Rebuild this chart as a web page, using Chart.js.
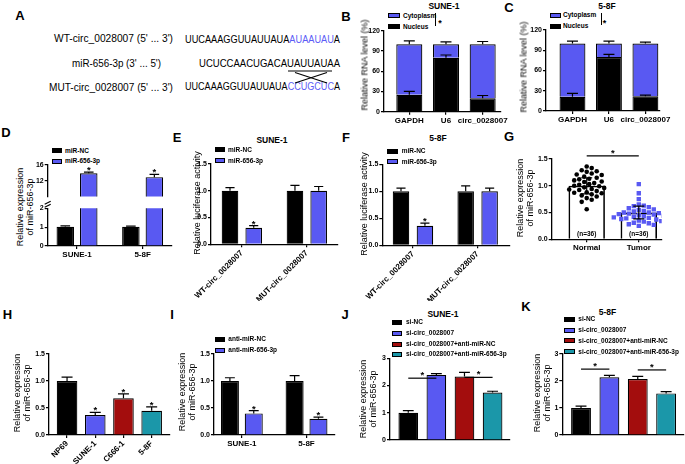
<!DOCTYPE html>
<html>
<head>
<meta charset="utf-8">
<script src="https://cdn.jsdelivr.net/npm/chart.js@4.4.1/dist/chart.umd.min.js"></script>
<style>
body { margin: 0; background: #fff; }
#fig { position: relative; width: 685px; height: 464px; overflow: hidden; background: #fff; font-family: 'Liberation Sans', Arial, sans-serif; }
#fig canvas { position: absolute; }
.t { position: absolute; white-space: nowrap; line-height: 1; font-weight: bold; color: #000; }
.box { position: absolute; box-sizing: border-box; border: 1px solid #000; }
</style>
</head>
<body>
<div id="fig">
  <svg id="seq" width="350" height="110" style="position:absolute;left:0;top:0" font-family="Liberation Sans, Arial, sans-serif"></svg>
</div>
<script>
// ---- data ----
// A: binding site
const seqLabels = ["WT-circ_0028007 (5' ... 3')", "miR-656-3p (3' ... 5')", "MUT-circ_0028007 (5' ... 3')"];
const wtSeq = ['UUCAAAGGUUAUUAUA', 'AUAAUAU', 'A'];
const mirSeq = 'UCUCCAACUGACAUAUUAUAA';
const mutSeq = ['UUCAAAGGUUAUUAUA', 'CCUGCUC', 'A'];

// B, C: nuclear / cytoplasmic fractions
const rnaCats = ['GAPDH', 'U6', 'circ_0028007'];
const nucleusB = [25, 80, 20];
const cytoB = [75, 20, 80];
const nucleusErrB = [5, 4, 4];
const cytoErrB = [5, 3.5, 4];
const nucleusC = [21, 80, 22];
const cytoC = [79, 20, 78];
const nucleusErrC = [5, 4, 1.5];
const cytoErrC = [3.5, 3.5, 2];

// D, I: cell lines
const cellCats = ['SUNE-1', '5-8F'];
const ncD = [1.02, 1.02];
const ncErrD = [0.05, 0.03];
const mimicD = [13.9, 12.9];
const mimicErrD = [0.3, 0.7];

// E, F: luciferase
const lucCats = ['WT-circ_0028007', 'MUT-circ_0028007'];
const ncE = [1.0, 1.0];
const ncErrE = [0.06, 0.1];
const mimicE = [0.31, 1.0];
const mimicErrE = [0.04, 0.08];
const ncF = [1.0, 1.0];
const ncErrF = [0.06, 0.1];
const mimicF = [0.36, 1.0];
const mimicErrF = [0.05, 0.06];

// G: tissues
const tissueCats = ['Normal', 'Tumor'];
const normalG = [1.36, 1.33, 1.29, 1.27, 1.26, 1.23, 1.21, 1.2, 1.17, 1.15, 1.13, 1.12, 1.1, 1.08, 1.07, 1.05, 1.03, 1.02,
                 1.0, 0.99, 0.97, 0.96, 0.94, 0.93, 0.92, 0.9, 0.88, 0.87, 0.86, 0.84, 0.82, 0.8, 0.77, 0.74, 0.7, 0.56];
const tumorG = [1.03, 0.86, 0.75, 0.65, 0.63, 0.62, 0.6, 0.58, 0.56, 0.55, 0.53, 0.52, 0.5, 0.5, 0.49, 0.48, 0.47, 0.46,
                0.45, 0.44, 0.43, 0.42, 0.41, 0.4, 0.39, 0.38, 0.37, 0.36, 0.35, 0.34, 0.33, 0.31, 0.3, 0.28, 0.27, 0.25];
const meanG = [1.0, 0.5];
const sdG = [0.15, 0.12];
const nG = ['(n=36)', '(n=36)'];

// H: cell lines
const lineCats = ['NP69', 'SUNE-1', 'C666-1', '5-8F'];
const exprH = [1.0, 0.37, 0.68, 0.45];
const errH = [0.07, 0.05, 0.08, 0.07];

// I: inhibitor
const antiNcI = [1.0, 1.0];
const antiNcErrI = [0.06, 0.1];
const anti656I = [0.4, 0.3];
const anti656ErrI = [0.05, 0.03];

// J, K: rescue
const rescueCats = ['si-NC', 'si-circ_0028007', 'si-circ_0028007+anti-miR-NC', 'si-circ_0028007+anti-miR-656-3p'];
const exprJ = [1.0, 2.39, 2.33, 1.74];
const errJ = [0.08, 0.05, 0.15, 0.05];
const exprK = [1.0, 2.14, 2.07, 1.54];
const errK = [0.07, 0.07, 0.1, 0.07];

// ---- styles ----
const FONT = "'Liberation Sans', Arial, sans-serif";
const BLUE = '#5959f2';
const RED = '#a30d0d';
const TEAL = '#1b97a9';
const fig = document.getElementById('fig');
Chart.defaults.font.family = FONT;
const exprTitle = ['Relative expression', 'of miR-656-3p'];

// Panel A sequences
const seqBlue = '#5b5bf6';
document.getElementById('seq').innerHTML = `
  <g font-size="10">
    <text x="54" y="42" textLength="119" lengthAdjust="spacingAndGlyphs">${seqLabels[0]}</text>
    <text x="72" y="66.5" textLength="89" lengthAdjust="spacingAndGlyphs">${seqLabels[1]}</text>
    <text x="49" y="91" textLength="124" lengthAdjust="spacingAndGlyphs">${seqLabels[2]}</text>
  </g>
  <g font-size="11.5">
    <text x="185" y="43" textLength="155" lengthAdjust="spacingAndGlyphs">${wtSeq[0]}<tspan fill="${seqBlue}">${wtSeq[1]}</tspan>${wtSeq[2]}</text>
    <text x="199" y="66.5" textLength="141" lengthAdjust="spacingAndGlyphs">${mirSeq}</text>
    <text x="185" y="90" textLength="155" lengthAdjust="spacingAndGlyphs">${mutSeq[0]}<tspan fill="${seqBlue}">${mutSeq[1]}</tspan>${mutSeq[2]}</text>
  </g>
  <g stroke="#000" stroke-width="1.2">
    <line x1="288" y1="71" x2="332" y2="71"/>
    <line x1="295" y1="72.5" x2="327" y2="83"/>
    <line x1="327" y1="72.5" x2="295" y2="83"/>
  </g>`;

// HTML text helpers
function label(x, y, s, size, center = true, weight = 'bold') {
  const d = document.createElement('div');
  d.className = 't';
  d.textContent = s;
  d.style.left = x + 'px';
  d.style.top = y + 'px';
  d.style.fontSize = size + 'px';
  d.style.fontWeight = weight;
  d.style.transform = center ? 'translate(-50%,-50%)' : 'translateY(-50%)';
  fig.appendChild(d);
}

// rotated axis title, one or more lines, first line at x
function yTitle(x, y, lines) {
  [].concat(lines).forEach((s, k) => {
    const d = document.createElement('div');
    d.className = 't';
    d.textContent = s;
    d.style.left = (x + k * 10) + 'px';
    d.style.top = y + 'px';
    d.style.fontSize = '9px';
    d.style.fontWeight = 'normal';
    d.style.transform = 'translate(-50%,-50%) rotate(-90deg)';
    fig.appendChild(d);
  });
}

function legend(x, textX, rows, items, colors, w = 10) {
  items.forEach((s, i) => {
    const b = document.createElement('div');
    b.className = 'box';
    b.style.cssText = `left:${x}px;top:${rows[i] - 2.5}px;width:${w}px;height:5px;background:${colors[i]}`;
    fig.appendChild(b);
    label(textX, rows[i], s, 6.5, false);
  });
}

function bracket(x, y1, y2, starX, starY) {
  const b = document.createElement('div');
  b.style.cssText = `position:absolute;left:${x}px;top:${y1}px;width:1.2px;height:${y2 - y1}px;background:#000`;
  fig.appendChild(b);
  label(starX, starY + 2, '*', 9);
}

// error bars, stars, significance lines
const marks = {
  id: 'marks',
  afterDatasetsDraw(chart, args, opts) {
    const ctx = chart.ctx, area = chart.chartArea;
    const ys = chart.scales.y, xs = chart.scales.x;
    const unit = v => ys.getPixelForValue(ys.min) - ys.getPixelForValue(ys.min + v);
    ctx.save();
    ctx.strokeStyle = '#000';
    ctx.fillStyle = '#000';
    ctx.lineWidth = 1.2;
    ctx.font = `bold 9.5px ${FONT}`;
    ctx.textAlign = 'center';
    ctx.textBaseline = 'alphabetic';
    chart.data.datasets.forEach((ds, di) => {
      if (!ds.err) return;
      chart.getDatasetMeta(di).data.forEach((el, i) => {
        if (el.y < area.top - 0.5 || el.y > area.bottom + 0.5) return;
        const d = unit(ds.err[i]);
        const cap = Math.min(11, el.width * 0.55);
        const top = el.y - d;
        const bot = ds.errBoth ? el.y + d : el.y;
        ctx.beginPath();
        ctx.moveTo(el.x, bot);
        ctx.lineTo(el.x, top);
        ctx.moveTo(el.x - cap / 2, top);
        ctx.lineTo(el.x + cap / 2, top);
        if (ds.errBoth) {
          ctx.moveTo(el.x - cap / 2, bot);
          ctx.lineTo(el.x + cap / 2, bot);
        }
        ctx.stroke();
        if (ds.stars && ds.stars[i]) ctx.fillText('*', el.x, top + 1);
      });
    });
    (opts.sig || []).forEach(([a, b, v]) => {
      const y = ys.getPixelForValue(v);
      const x1 = xs.getPixelForValue(a), x2 = xs.getPixelForValue(b);
      ctx.beginPath();
      ctx.moveTo(x1, y);
      ctx.lineTo(x2, y);
      ctx.stroke();
      ctx.fillText('*', (x1 + x2) / 2, y);
    });
    if (opts.nLabels) {
      ctx.font = `bold 6.5px ${FONT}`;
      opts.nLabels.forEach((s, i) => ctx.fillText(s, xs.getPixelForValue(i), area.bottom - 3));
    }
    if (opts.breakMark) {
      const l = area.left, t = area.top;
      ctx.beginPath();
      ctx.moveTo(l - 3, t - 1);
      ctx.lineTo(l + 3, t - 4);
      ctx.moveTo(l - 3, t - 4);
      ctx.lineTo(l + 3, t - 7);
      ctx.stroke();
    }
    ctx.restore();
  }
};

function bars(vals, color, extra) {
  return Object.assign({
    data: vals.map((v, i) => ({x: i, y: v})),
    backgroundColor: color,
    borderColor: '#000',
    borderWidth: 1.2
  }, extra);
}

// box = canvas rect, area = wanted plot area [left, top, right, bottom] in page px
function makeChart(o) {
  const [bx, by, bw, bh] = o.box;
  const [al, at, ar, ab] = o.area;
  const cv = document.createElement('canvas');
  cv.width = bw;
  cv.height = bh;
  cv.style.left = bx + 'px';
  cv.style.top = by + 'px';
  fig.appendChild(cv);
  if (o.yTitle) yTitle(o.yTitleX, o.yTitleY, o.yTitle);
  const yW = al - bx;
  const xH = by + bh - ab;
  const xFont = {family: FONT, size: 8, weight: 'bold'};
  const yFont = {family: FONT, size: 7, weight: 'bold'};
  const axisGrid = {drawOnChartArea: false, drawTicks: true, tickLength: 3, color: '#000', lineWidth: 1.2, offset: false};
  const axisBorder = {display: true, color: '#000', width: 1.3};
  return new Chart(cv, {
    type: 'bar',
    data: {datasets: o.datasets},
    options: {
      responsive: false,
      animation: false,
      devicePixelRatio: 1,
      events: [],
      layout: {padding: {left: 0, top: at - by, right: bx + bw - ar, bottom: o.hideX ? xH : 0}},
      plugins: {legend: {display: false}, tooltip: {enabled: false}, marks: o.marks || {}},
      scales: {
        x: {
          type: 'linear', bounds: 'data', offset: false, min: o.xmin, max: o.xmax,
          display: !o.hideX, stacked: !!o.stacked,
          afterFit: s => { s.height = xH; },
          afterBuildTicks: s => { s.ticks = o.cats.map((c, i) => ({value: i})); },
          grid: Object.assign({}, axisGrid, {drawTicks: o.xTicks !== false}),
          border: axisBorder,
          ticks: {
            autoSkip: false, maxRotation: o.rot || 0, minRotation: o.rot || 0, padding: 1,
            color: '#000', font: xFont,
            callback: v => (o.showX === false ? '' : o.cats[v])
          }
        },
        y: {
          type: 'linear', bounds: 'data', offset: false, min: o.ymin, max: o.ymax, stacked: !!o.stacked,
          afterFit: s => { s.width = yW; },
          afterBuildTicks: s => { s.ticks = o.yticks.map(v => ({value: v})); },
          grid: axisGrid,
          border: axisBorder,
          ticks: {padding: 1, color: '#000', font: yFont, callback: o.yfmt || (v => v)}
        }
      }
    },
    plugins: [marks]
  });
}

// simple beeswarm offsets for the dot plot (px spacing -> data units)
function swarm(vals, cat, pxX, pxY, d) {
  const placed = [];
  const out = [];
  const order = vals.map((v, i) => i).sort((a, b) => vals[b] - vals[a]);
  order.forEach(i => {
    const y = vals[i] * pxY;
    for (let k = 0; k < 60; k++) {
      const x = (k % 2 ? 1 : -1) * Math.ceil(k / 2) * d * 0.5;
      if (placed.every(p => Math.hypot(p[0] - x, p[1] - y) >= d)) {
        placed.push([x, y]);
        out.push({x: cat + x / pxX, y: vals[i]});
        break;
      }
    }
  });
  return out;
}

const oneDec = v => v.toFixed(1);

// ---- panel letters and titles ----
[['A', 20, 15], ['B', 346, 16], ['C', 509, 7], ['D', 6, 132], ['E', 177, 137], ['F', 346, 137],
 ['G', 509, 136], ['H', 7.5, 314], ['I', 172, 314], ['J', 345, 314], ['K', 526, 306]]
  .forEach(([s, x, y]) => label(x, y, s, 13));

label(444, 6, 'SUNE-1', 8.5);
label(607, 5.5, '5-8F', 8.5);
label(272, 140, 'SUNE-1', 8.5);
label(438, 138, '5-8F', 8.5);
label(443, 313.5, 'SUNE-1', 8.5);
label(607.5, 312, '5-8F', 8.5);

// ---- B ----
legend(388, 403, [15.7, 26.5], ['Cytoplasm', 'Nucleus'], [BLUE, '#000'], 12);
bracket(435, 13.3, 26, 440, 20.7);
makeChart({
  box: [355, 22, 160, 115], area: [384, 30.7, 501, 111.7],
  cats: rnaCats, xmin: -0.69, xmax: 2.5, ymin: 0, ymax: 120, yticks: [0, 30, 60, 90, 120],
  stacked: true, yTitle: 'Relative RNA level (%)', yTitleX: 365, yTitleY: 65,
  datasets: [
    bars(nucleusB, '#000', {err: nucleusErrB, categoryPercentage: 0.71, barPercentage: 1}),
    bars(cytoB, BLUE, {err: cytoErrB, categoryPercentage: 0.71, barPercentage: 1})
  ]
});

// ---- C ----
legend(550, 563, [15.3, 26], ['Cytoplasm', 'Nucleus'], [BLUE, '#000'], 11);
bracket(600.5, 13.3, 25, 604.5, 21);
makeChart({
  box: [515, 22, 160, 115], area: [546, 30, 660, 111],
  cats: rnaCats, xmin: -0.726, xmax: 2.4, ymin: 0, ymax: 120, yticks: [0, 30, 60, 90, 120],
  stacked: true, yTitle: 'Relative RNA level (%)', yTitleX: 524, yTitleY: 67,
  datasets: [
    bars(nucleusC, '#000', {err: nucleusErrC, categoryPercentage: 0.71, barPercentage: 1}),
    bars(cytoC, BLUE, {err: cytoErrC, categoryPercentage: 0.71, barPercentage: 1})
  ]
});

// ---- D (broken axis: two stacked plots) ----
legend(52, 65, [150.5, 161], ['miR-NC', 'miR-656-3p'], ['#000', BLUE]);
yTitle(20, 207, exprTitle);
const dSets = () => [
  bars(ncD, '#000', {err: ncErrD, clip: 0, categoryPercentage: 0.716, barPercentage: 0.745}),
  bars(mimicD, BLUE, {err: mimicErrD, stars: [true, true], clip: 0, categoryPercentage: 0.716, barPercentage: 0.745})
];
makeChart({
  box: [30, 200, 150, 66], area: [47.7, 208.3, 172, 246],
  cats: cellCats, xmin: -0.447, xmax: 1.448, ymin: 0, ymax: 2, yticks: [0, 1, 2],
  marks: {breakMark: true}, datasets: dSets()
});
makeChart({
  box: [30, 157, 150, 50], area: [47.7, 165, 172, 201.7], hideX: true,
  cats: cellCats, xmin: -0.447, xmax: 1.448, ymin: 8, ymax: 16, yticks: [12, 16],
  datasets: dSets()
});

// ---- E ----
legend(215, 228, [149.5, 160.5], ['miR-NC', 'miR-656-3p'], ['#000', BLUE]);
makeChart({
  box: [182, 156, 163, 145], area: [211, 164, 338, 244.3],
  cats: lucCats, xmin: -0.475, xmax: 1.48, rot: 45, ymin: 0, ymax: 1.5, yticks: [0, 0.5, 1, 1.5], yfmt: oneDec,
  yTitle: 'Relative luciferase activity', yTitleX: 196.7, yTitleY: 202.5,
  datasets: [
    bars(ncE, '#000', {err: ncErrE, categoryPercentage: 0.73, barPercentage: 0.7}),
    bars(mimicE, BLUE, {err: mimicErrE, stars: [true, false], categoryPercentage: 0.73, barPercentage: 0.7})
  ]
});

// ---- F ----
legend(387, 401.7, [151.2, 161.7], ['miR-NC', 'miR-656-3p'], ['#000', BLUE], 11);
makeChart({
  box: [352, 156, 163, 145], area: [382.3, 164.3, 510, 245.3],
  cats: lucCats, xmin: -0.474, xmax: 1.5, rot: 45, ymin: 0, ymax: 1.5, yticks: [0, 0.5, 1, 1.5], yfmt: oneDec,
  yTitle: 'Relative luciferase activity', yTitleX: 364, yTitleY: 204,
  datasets: [
    bars(ncF, '#000', {err: ncErrF, categoryPercentage: 0.74, barPercentage: 0.69}),
    bars(mimicF, BLUE, {err: mimicErrF, stars: [true, false], categoryPercentage: 0.74, barPercentage: 0.69})
  ]
});

// ---- G ----
makeChart({
  box: [512, 150, 170, 110], area: [551.7, 159, 661.7, 239.3],
  cats: tissueCats, xmin: -0.672, xmax: 1.44, ymin: 0, ymax: 1.5, yticks: [0, 0.5, 1, 1.5], yfmt: oneDec,
  yTitle: exprTitle, yTitleX: 520, yTitleY: 198,
  marks: {sig: [[0, 1, 1.56]], nLabels: nG},
  datasets: [
    {type: 'scatter', data: swarm(normalG, 0, 52.1, 53.5, 5), pointRadius: 2.3, pointStyle: 'circle',
     pointBackgroundColor: '#000', pointBorderWidth: 0},
    {type: 'scatter', data: swarm(tumorG, 1, 52.1, 53.5, 5), pointRadius: 3.1, pointStyle: 'rect',
     pointBackgroundColor: BLUE, pointBorderWidth: 0},
    bars(meanG, 'rgba(255,255,255,0)', {err: sdG, errBoth: true, borderWidth: 1.6, categoryPercentage: 0.7, barPercentage: 1})
  ]
});

// ---- H ----
makeChart({
  box: [8, 345, 165, 119], area: [49, 354, 170, 435],
  cats: lineCats, xmin: -0.64, xmax: 3.65, rot: 45, ymin: 0, ymax: 1.5, yticks: [0, 0.5, 1, 1.5], yfmt: oneDec,
  yTitle: exprTitle, yTitleX: 16.7, yTitleY: 393,
  datasets: [
    bars(exprH, ['#000', BLUE, RED, TEAL], {err: errH, stars: [false, true, true, true], categoryPercentage: 0.73, barPercentage: 1})
  ]
});

// ---- I ----
legend(215, 228.3, [339.2, 350.2], ['anti-miR-NC', 'anti-miR-656-3p'], ['#000', BLUE]);
makeChart({
  box: [175, 345, 165, 119], area: [214, 354, 335, 435],
  cats: cellCats, xmin: -0.43, xmax: 1.44, ymin: 0, ymax: 1.5, yticks: [0, 0.5, 1, 1.5], yfmt: oneDec,
  yTitle: exprTitle, yTitleX: 181.7, yTitleY: 392,
  datasets: [
    bars(antiNcI, '#000', {err: antiNcErrI, categoryPercentage: 0.737, barPercentage: 0.756}),
    bars(anti656I, BLUE, {err: anti656ErrI, stars: [true, true], categoryPercentage: 0.737, barPercentage: 0.756})
  ]
});

// ---- J ----
const rescueColors = ['#000', BLUE, RED, TEAL];
legend(392, 406, [322.3, 333, 344, 354.3], rescueCats, rescueColors);
makeChart({
  box: [350, 350, 162, 100], area: [390, 358.3, 510, 440],
  cats: rescueCats, showX: false, xTicks: false, xmin: -0.65, xmax: 3.62, ymin: 0, ymax: 3, yticks: [0, 1, 2, 3],
  yTitle: exprTitle, yTitleX: 363.3, yTitleY: 399,
  marks: {sig: [[0, 1, 2.27], [2, 3, 2.3]]},
  datasets: [bars(exprJ, rescueColors, {err: errJ, categoryPercentage: 0.7, barPercentage: 1})]
});

// ---- K ----
legend(564.3, 578.3, [319.3, 330, 340.7, 351.7], rescueCats, rescueColors, 10.7);
makeChart({
  box: [525, 346, 160, 100], area: [562.3, 354, 684, 435],
  cats: rescueCats, showX: false, xTicks: false, xmin: -0.66, xmax: 3.63, ymin: 0, ymax: 3, yticks: [0, 1, 2, 3],
  yTitle: exprTitle, yTitleX: 537.3, yTitleY: 393,
  marks: {sig: [[0, 1, 2.44], [2, 3, 2.41]]},
  datasets: [bars(exprK, rescueColors, {err: errK, categoryPercentage: 0.7, barPercentage: 1})]
});
</script>
</body>
</html>
